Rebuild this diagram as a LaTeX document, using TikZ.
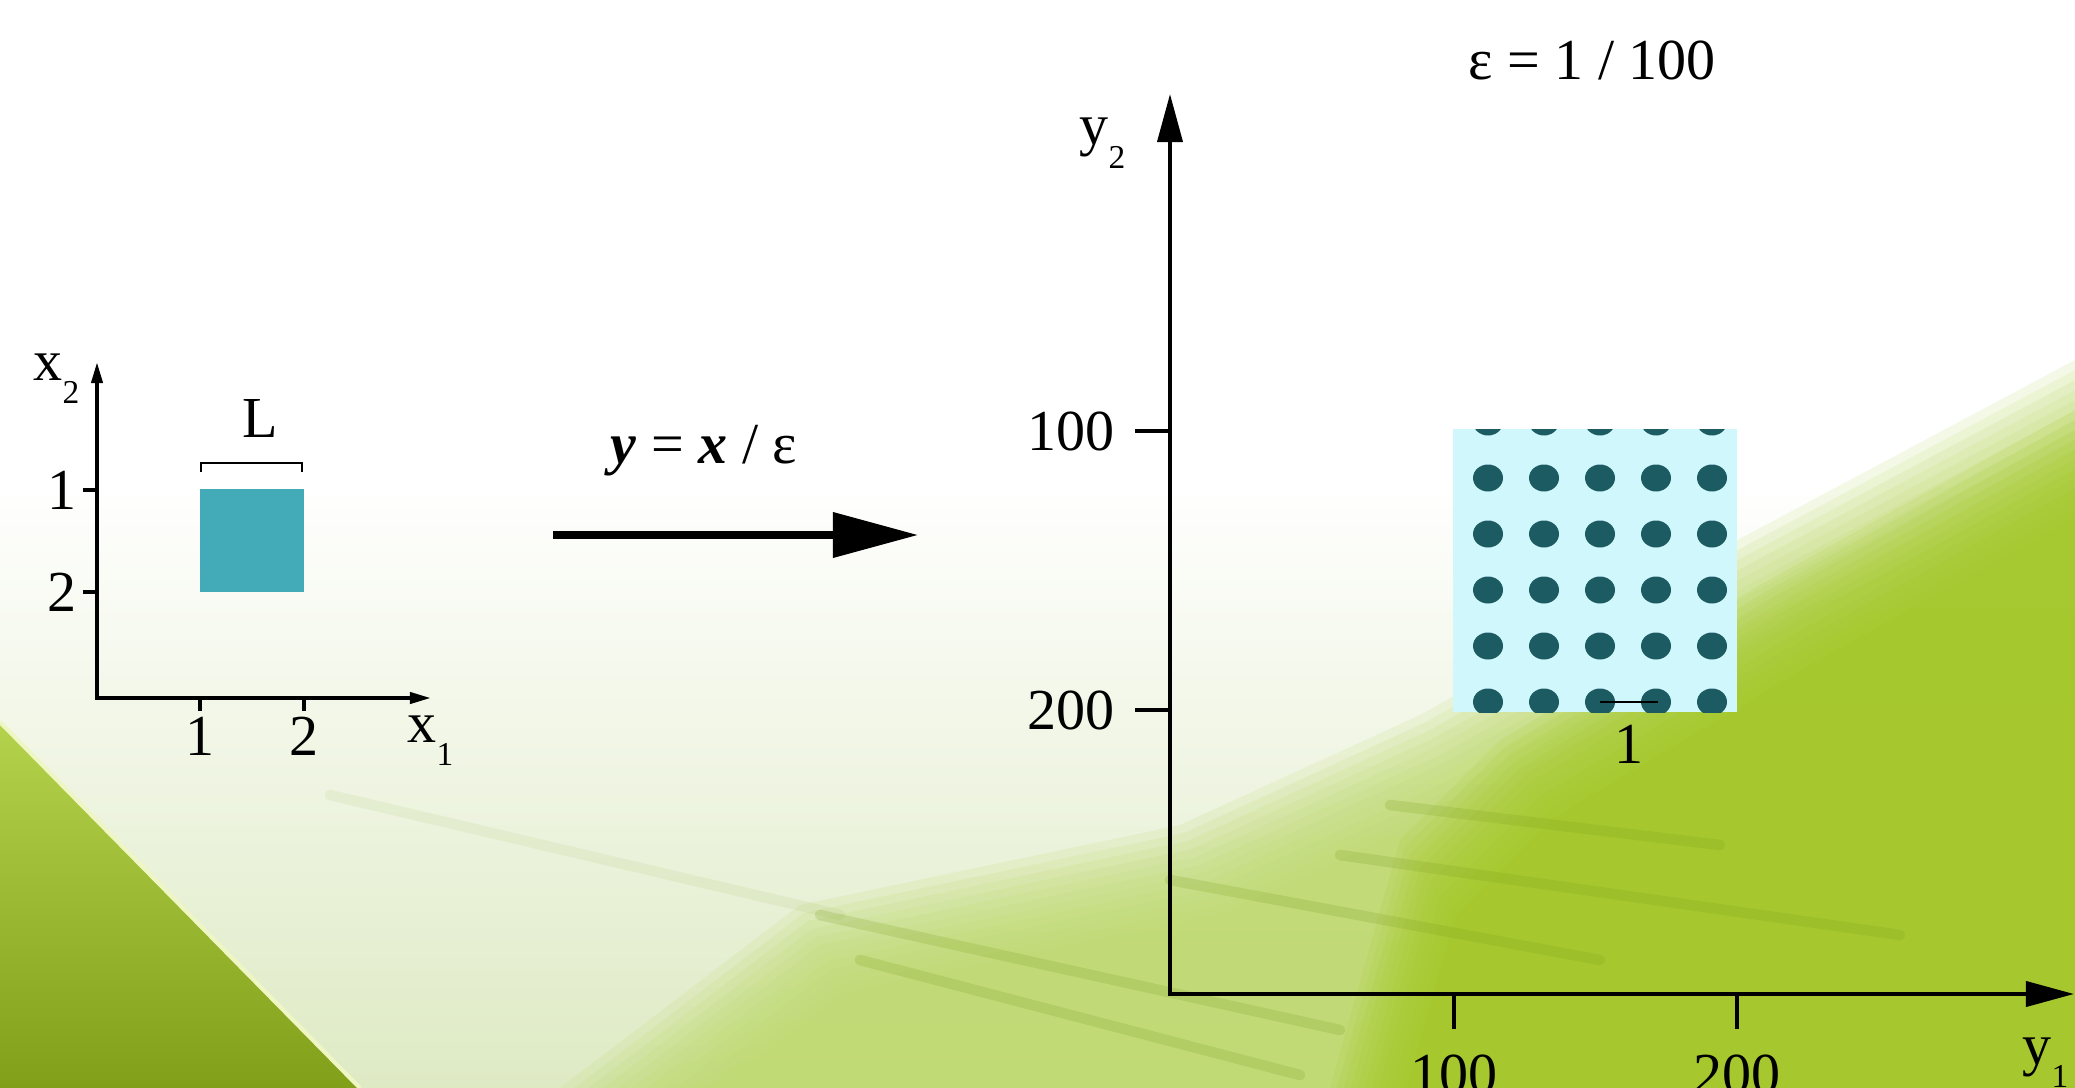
\documentclass[tikz,border=0pt]{standalone}
\usepackage{fontspec}
\setmainfont{Liberation Serif}
\usetikzlibrary{arrows.meta}
\newcommand{\lowidx}[2]{#1\raisebox{-0.4em}{\fontsize{9.5}{10}\selectfont #2}}

\begin{document}
\begin{tikzpicture}[x=0.01cm, y=-0.01cm, font=\fontsize{16.5}{19}\selectfont,
		smallaxis/.style={line width=1.1pt, >={Triangle[length=0.21cm, width=0.11cm]}, <->},
		bigaxis/.style={line width=1.1pt, >={Triangle[length=0.48cm, width=0.25cm]}, <->},
		tickmark/.style={line width=1.1pt},
		streak/.style={line width=3pt, line cap=round, opacity=0.2}]
		\definecolor{cellteal}{HTML}{43AAB8}
		\definecolor{cellbg}{HTML}{D0F7FC}
		\definecolor{celldot}{HTML}{1C5B62}
		\definecolor{leafgreen}{HTML}{A2C71F}
		\definecolor{leaflight}{HTML}{BFDA6E}
		\definecolor{leafpale}{HTML}{DEEAC4}
		\definecolor{leafedge}{HTML}{EEF6C4}
		\definecolor{leafdark}{HTML}{7A9C1E}
		
		\useasboundingbox (0,0) rectangle (2075,1088);
		
		% 背景（白色到淡绿）
		\begin{scope}
			\clip (0,0) rectangle (2075,1088);
			\fill[white] (0,0) rectangle (2075,1088);
			\shade[top color=white, bottom color=leafpale] (0,480) rectangle (2075,1088);
			% 右下绿色区域（边缘柔化）
			\foreach \k in {0,...,11}
				\fill[leaflight, opacity=0.16, shift={(\k*4,\k*8)}]
				(2075,360) -- (1700,560) -- (1420,715) -- (1180,825) -- (800,905) -- (560,1088) -- (2075,1088) -- cycle;
			\foreach \k in {0,...,11}
				\fill[leafgreen, opacity=0.12, shift={(\k*5,\k*7)}]
				(2075,410) -- (1760,585) -- (1500,740) -- (1400,840) -- (1330,1088) -- (2075,1088) -- cycle;
			% 斜纹
			\draw[streak, leafdark, opacity=0.08] (330,795) -- (840,915);
			\draw[streak, leafdark] (820,915) -- (1340,1030);
			\draw[streak, leafdark] (860,960) -- (1300,1075);
			\draw[streak, leafdark] (1170,880) -- (1600,960);
			\draw[streak, leafdark] (1340,855) -- (1900,935);
			\draw[streak, leafdark] (1390,805) -- (1720,845);
			% 左下三角
			\shade[top color=leafgreen!80!white, bottom color=leafgreen!80!black] (0,722) -- (360,1088) -- (0,1088) -- cycle;
			\draw[leafedge, line width=1.2pt] (0,722) -- (360,1088);
		\end{scope}
		
		% 左图：单胞
		\coordinate (O) at (97,698);
		\coordinate (Xend) at (431,698);
		\coordinate (Yend) at (97,362);
		\draw[smallaxis] (Yend) -- (O) -- (Xend);
		\foreach \t/\y in {1/490, 2/592} {
			\draw[tickmark] (83,\y) -- (97,\y);
			\node[anchor=base east, inner sep=0pt] (ytick\t) at (77,\y+19) {\t};
		}
		\foreach \t/\x in {1/200, 2/304} {
			\draw[tickmark] (\x,698) -- (\x,711);
			\node[anchor=base, inner sep=0pt] (xtick\t) at (\x,755) {\t};
		}
		\node[anchor=base west, inner sep=0pt] (xonelbl) at (407,742) {\lowidx{x}{1}};
		\node[anchor=base west, inner sep=0pt] (xtwolbl) at (33,380) {\lowidx{x}{2}};
		\fill[cellteal] (200,489) rectangle (304,592);
		\draw[line width=0.6pt] (201,472) -- (201,463) -- (302,463) -- (302,472);
		\node[anchor=base, inner sep=0pt] (Llbl) at (260,437) {L};
		
		% 变换箭头
		\coordinate (mapA) at (553,535);
		\coordinate (mapB) at (918,535);
		\draw[line width=2pt, -{Triangle[length=0.85cm, width=0.44cm]}] (mapA) -- (mapB);
		\node[anchor=base, inner sep=0pt] (maplbl) at (704,463) {\textbf{\textit{y}} = \textbf{\textit{x}} / ε};
		
		% 右图：放大后的区域
		\node[anchor=base, inner sep=0pt] (epslbl) at (1592,80) {ε = 1 / 100};
		\coordinate (P) at (1170,994);
		\coordinate (Yup) at (1170,94);
		\coordinate (Xright) at (2074,994);
		\draw[bigaxis] (Yup) -- (P) -- (Xright);
		\foreach \t/\y in {100/431, 200/710} {
			\draw[tickmark] (1135,\y) -- (1170,\y);
			\node[anchor=base east, inner sep=0pt] (ybig\t) at (1115,\y+19) {\t};
		}
		\foreach \t/\x in {100/1454, 200/1737} {
			\draw[tickmark] (\x,994) -- (\x,1029);
			\node[anchor=base, inner sep=0pt] (xbig\t) at (\x,1093) {\t};
		}
		\node[anchor=base west, inner sep=0pt] (yonelbl) at (2022,1064) {\lowidx{y}{1}};
		\node[anchor=base west, inner sep=0pt] (ytwolbl) at (1079,145) {\lowidx{y}{2}};
		
		% 周期排列的夹杂
		\begin{scope}
			\clip (1453,429) rectangle (1737,712);
			\fill[cellbg] (1453,429) rectangle (1737,712);
			\foreach \cx in {1488,1544,...,1712}
				\foreach \cy in {422,478,...,702}
					\fill[celldot] (\cx,\cy) ellipse (15 and 13.5);
		\end{scope}
		\draw[line width=0.6pt] (1600,702) -- (1658,702);
		\node[anchor=base, inner sep=0pt] (onelbl) at (1629,763) {1};
	\end{tikzpicture}
\end{document}
